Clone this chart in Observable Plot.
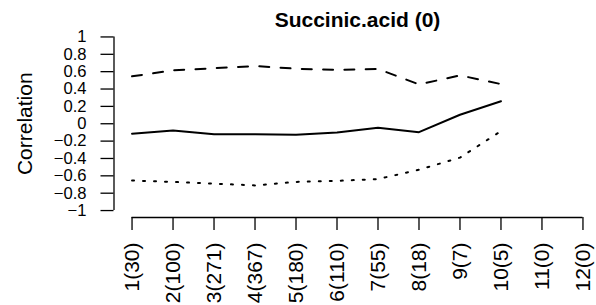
<!DOCTYPE html>
<html>
<head>
<meta charset="utf-8">
<script src="https://cdn.jsdelivr.net/npm/d3@7"></script>
<script src="https://cdn.jsdelivr.net/npm/@observablehq/plot@0.6"></script>
<style>
  html, body { margin: 0; padding: 0; background: #fff; }
  svg { display: block; }
</style>
</head>
<body>
<div id="chart"></div>
<script>
const title = "Succinic.acid (0)";
const yLabel = "Correlation";
const xTickLabels = ["1(30)","2(100)","3(271)","4(367)","5(180)","6(110)","7(55)","8(18)","9(7)","10(5)","11(0)","12(0)"];
const xTicks = [1,2,3,4,5,6,7,8,9,10,11,12];
const yTicks = [-1,-0.8,-0.6,-0.4,-0.2,0,0.2,0.4,0.6,0.8,1];
const groups = [1,2,3,4,5,6,7,8,9,10];
const corr  = [-0.115,-0.077,-0.12,-0.12,-0.127,-0.10,-0.046,-0.097,0.104,0.26];
const upper = [0.546,0.615,0.64,0.665,0.634,0.62,0.632,0.453,0.557,0.457];
const lower = [-0.654,-0.67,-0.69,-0.71,-0.67,-0.658,-0.637,-0.53,-0.39,-0.085];

const xlim = [0.56, 12.44];
const ylim = [-1.08, 1.08];

const rows = (vals) => groups.map((g, i) => ({x: g, y: vals[i]}));

const chart = Plot.plot({
  width: 596,
  height: 305,
  marginLeft: 113.5,
  marginRight: -4.5,
  marginTop: 29.5,
  marginBottom: 88,
  style: {fontFamily: "'Liberation Sans', Arial, sans-serif", background: "#fff", color: "#000"},
  x: {domain: xlim, range: [113.5, 600.5]},
  y: {domain: ylim, range: [217, 29.5]},
  marks: [
    // axis lines spanning first to last tick (R style)
    Plot.ruleX([xlim[0]], {y1: yTicks[0], y2: yTicks[yTicks.length - 1], stroke: "#000", strokeWidth: 1.3}),
    Plot.ruleY([ylim[0]], {x1: xTicks[0], x2: xTicks[xTicks.length - 1], stroke: "#000", strokeWidth: 1.3}),
    Plot.axisY(yTicks, {
      anchor: "left", tickSize: 13, tickPadding: 14.5, fontSize: 16.6,
      strokeWidth: 1.3, label: null,
      tickFormat: d => d3.format("")(d).replace("-", "\u2212")
    }),
    Plot.axisX(xTicks, {
      anchor: "bottom", tickSize: 13, tickPadding: 12, fontSize: 21,
      strokeWidth: 1.3, tickRotate: -90, label: null,
      tickFormat: (d, i) => xTickLabels[i]
    }),
    Plot.lineY(rows(upper), {x: "x", y: "y", stroke: "#000", strokeWidth: 2, strokeDasharray: "10,11.3"}),
    Plot.lineY(rows(corr), {x: "x", y: "y", stroke: "#000", strokeWidth: 2}),
    Plot.lineY(rows(lower), {x: "x", y: "y", stroke: "#000", strokeWidth: 2, strokeDasharray: "2,9"}),
    Plot.text([title], {frameAnchor: "top", dy: -3.5, lineAnchor: "bottom", fontSize: 21, fontWeight: "bold", fill: "#000"}),
    Plot.text([yLabel], {frameAnchor: "left", dx: -88.5, rotate: -90, fontSize: 21, fill: "#000", textAnchor: "middle"})
  ]
});
document.getElementById("chart").append(chart);
</script>
</body>
</html>
